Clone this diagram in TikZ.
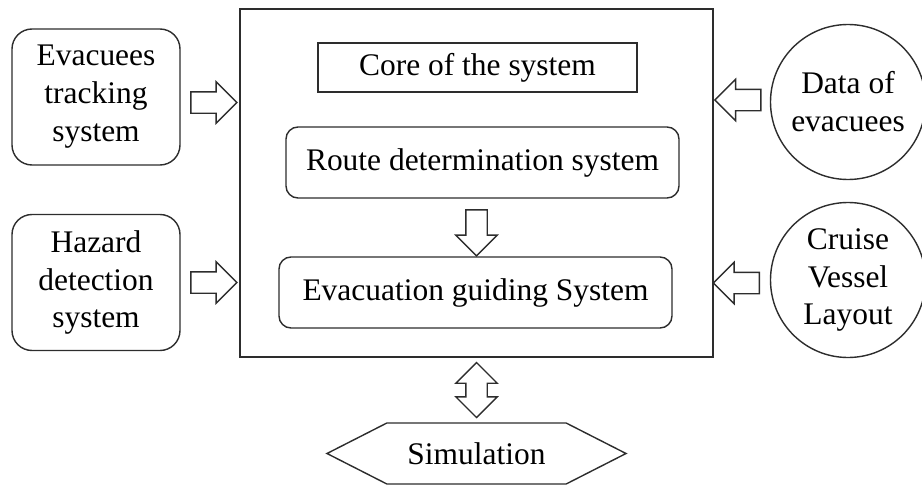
\documentclass[tikz,border=0pt]{standalone}
\usepackage{fontspec}
\setmainfont{Liberation Serif}
\usetikzlibrary{calc,shapes.arrows,shapes.symbols}
\definecolor{evac@line}{RGB}{45,45,45}

\tikzset{
  sysbox/.style={draw=evac@line, line width=0.8pt, inner sep=0pt, align=center},
  roundbox/.style={sysbox, rounded corners=0.24cm},
  sidebox/.style={sysbox, rounded corners=0.4cm, minimum width=3.36cm, minimum height=2.72cm},
  datacircle/.style={sysbox, circle, minimum size=3.1cm},
  blockarrow/.style={single arrow, draw=evac@line, line width=0.8pt, inner sep=0pt,
    inner ysep=0.2cm, single arrow head extend=0.2cm, single arrow tip angle=90,
    minimum height=0.92cm},
  twowayarrow/.style={double arrow, draw=evac@line, line width=0.8pt, inner sep=0pt,
    inner ysep=0.2cm, double arrow head extend=0.2cm, double arrow tip angle=90,
    minimum height=1.1cm},
}

\begin{document}
\begin{tikzpicture}[font=\fontsize{17.9}{21.6}\selectfont]

\useasboundingbox (0,0) rectangle (18.44,-9.70);

% core of the system
\node[sysbox, minimum width=9.46cm, minimum height=6.96cm] (main) at (9.53,-3.66) {};
\node[sysbox, minimum width=6.38cm, minimum height=0.98cm] (core) at (9.55,-1.35) {Core of the system};
\node[roundbox, minimum width=7.86cm, minimum height=1.42cm] (route) at (9.65,-3.25) {Route determination system};
\node[roundbox, minimum width=7.86cm, minimum height=1.42cm] (guide) at (9.51,-5.85) {Evacuation guiding System};
\node[blockarrow, rotate=-90] (routearrow) at ($(route.south -| main.center)!.5!(guide.north -| main.center)$) {};

% inputs on the left
\node[sidebox] (track) at (1.92,-1.94) {Evacuees\\tracking\\system};
\node[sidebox] (hazard) at (1.92,-5.65) {Hazard\\detection\\system};
\node[blockarrow] (trackarrow) at ($(track.east)!.5!(track.east -| main.west) + (-0.03,-0.11)$) {};
\node[blockarrow] (hazardarrow) at ($(hazard.east)!.5!(hazard.east -| main.west) + (-0.03,0)$) {};

% inputs on the right
\node[datacircle] (data) at (16.96,-2.04) {Data of\\evacuees};
\node[datacircle] (cruise) at (16.96,-5.60) {Cruise\\Vessel\\Layout};
\node[blockarrow, rotate=180] (dataarrow) at ($(data.west)!.5!(data.west -| main.east) + (0.03,0.04)$) {};
\node[blockarrow, rotate=180] (cruisearrow) at ($(cruise.west)!.5!(cruise.west -| main.east) + (0,-0.06)$) {};

% simulation
\node[sysbox, signal, signal to=west and east, signal pointer angle=54,
  minimum width=5.98cm, minimum height=1.22cm] (sim) at (9.53,-9.07) {Simulation};
\node[twowayarrow, rotate=90] (simarrow) at ($(main.south)!.5!(sim.north)$) {};

\end{tikzpicture}
\end{document}
